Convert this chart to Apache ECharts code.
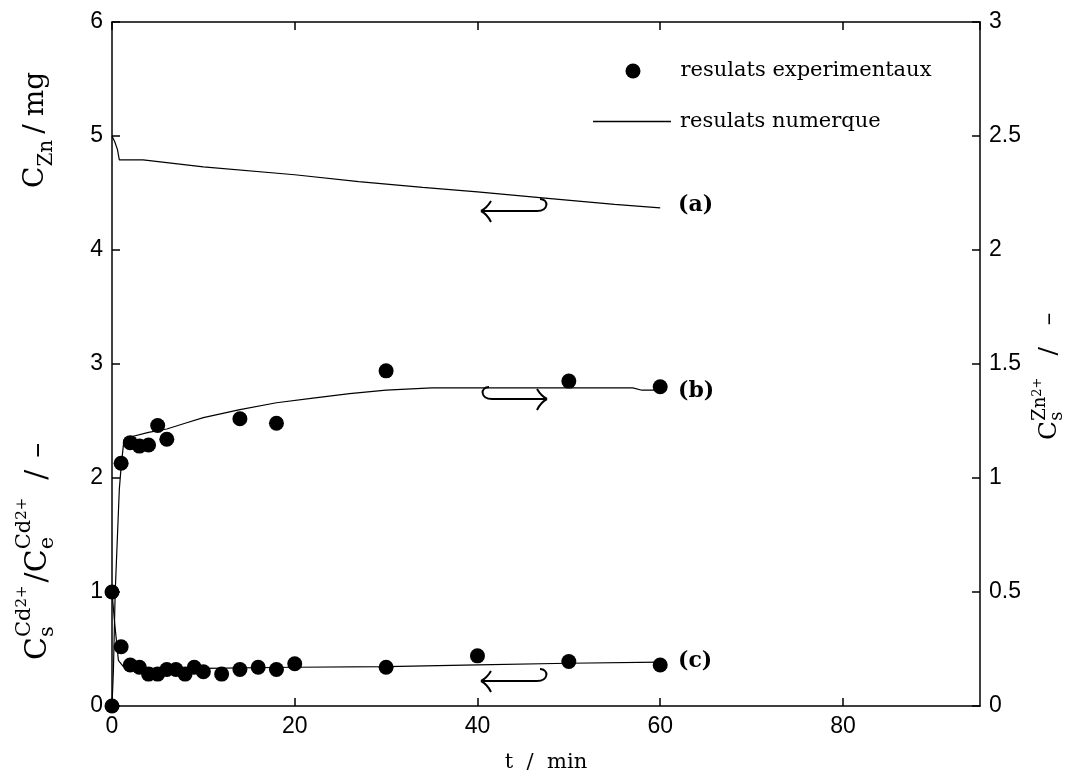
<!DOCTYPE html>
<html>
<head>
<meta charset="utf-8">
<script src="https://cdn.jsdelivr.net/npm/echarts@6/dist/echarts.min.js"></script>
<style>
  html, body { margin: 0; padding: 0; background: #fff; }
  #chart { width: 1074px; height: 778px; }
</style>
</head>
<body>
<div id="chart"></div>
<script>
// (a) numerical Zn mass, left axis (mg)
var tNumA = [0, 0.3, 0.6, 0.8, 1.5, 3.4, 10, 20, 27, 34, 40, 48, 55, 60];
var vNumA = [5.0, 4.95, 4.88, 4.79, 4.79, 4.79, 4.73, 4.66, 4.60, 4.55, 4.51, 4.45, 4.40, 4.37];

// (b) Zn surface ratio, right axis
var tNumB = [0, 0.15, 0.35, 0.6, 0.8, 1.0, 1.3, 2, 4, 6, 8, 10, 14, 18, 22, 26, 30, 35, 45, 57, 58, 60];
var vNumB = [0, 0.15, 0.5, 0.75, 0.95, 1.05, 1.165, 1.18, 1.2, 1.215, 1.24, 1.265, 1.3, 1.33, 1.35, 1.37, 1.385, 1.395, 1.395, 1.395, 1.385, 1.385];
var tExpB = [0, 1, 2, 3, 4, 5, 6, 14, 18, 30, 50, 60];
var vExpB = [0, 1.065, 1.155, 1.14, 1.145, 1.23, 1.17, 1.26, 1.24, 1.47, 1.425, 1.40];

// (c) Cd surface ratio, left axis
var tNumC = [0, 0.3, 0.7, 1.2, 3, 10, 20, 30, 40, 50, 60];
var vNumC = [1.0, 0.72, 0.40, 0.35, 0.33, 0.33, 0.34, 0.345, 0.36, 0.375, 0.385];
var tExpC = [0, 1, 2, 3, 4, 5, 6, 7, 8, 9, 10, 12, 14, 16, 18, 20, 30, 40, 50, 60];
var vExpC = [1.0, 0.52, 0.36, 0.34, 0.28, 0.28, 0.32, 0.32, 0.28, 0.34, 0.30, 0.28, 0.32, 0.34, 0.32, 0.37, 0.34, 0.44, 0.39, 0.36];

var curveLabels = ['(a)', '(b)', '(c)'];
var legendNames = ['resulats experimentaux', 'resulats numerque'];

function pairs (xs, ys) {
  return xs.map(function (x, i) { return [x, ys[i]]; });
}

var measureCtx = document.createElement('canvas').getContext('2d');
function serif (size) { return size + 'px "DejaVu Serif"'; }

// rotated axis title built from pieces (sub / superscripts)
function vertLabel (x, y, parts) {
  var pos = 0, kids = [];
  parts.forEach(function (p) {
    if (p.gap) { pos += p.gap; return; }
    measureCtx.font = serif(p.size);
    var w = measureCtx.measureText(p.text).width;
    kids.push({
      type: 'text', x: pos, y: (p.shift || 0) - 0.32 * p.size,
      style: { text: p.text, font: serif(p.size), fill: '#000', align: 'left', verticalAlign: 'middle' }
    });
    if (!p.hold) pos += w;
  });
  return { type: 'group', x: x, y: y, rotation: Math.PI / 2, children: kids, silent: true };
}

var penStyle = { stroke: '#000', lineWidth: 2, fill: null };
function seg (x1, y1, x2, y2) {
  return { type: 'line', shape: { x1: x1, y1: y1, x2: x2, y2: y2 }, style: penStyle, silent: true };
}
function curve (x1, y1, c1x, c1y, c2x, c2y, x2, y2) {
  return {
    type: 'bezierCurve', silent: true, style: penStyle,
    shape: { x1: x1, y1: y1, cpx1: c1x, cpy1: c1y, cpx2: c2x, cpy2: c2y, x2: x2, y2: y2 }
  };
}
// hook arrow pointing left (hook on the right end)
function hookLeft (x0, x1, y) {
  return [
    seg(x0, y, x1, y),
    curve(x1, y, x1 + 12, y, x1 + 12, y - 12, x1 + 3, y - 12),
    curve(x0 + 10, y - 10, x0 + 7, y - 5, x0 + 4, y - 2, x0, y),
    curve(x0, y, x0 + 4, y + 2, x0 + 7, y + 5, x0 + 10, y + 11)
  ];
}
// hook arrow pointing right (hook on the left end)
function hookRight (x0, x1, y) {
  return [
    seg(x0, y, x1, y),
    curve(x0, y, x0 - 12, y, x0 - 12, y - 12, x0 - 3, y - 12),
    curve(x1 - 10, y - 10, x1 - 7, y - 5, x1 - 4, y - 2, x1, y),
    curve(x1, y, x1 - 4, y + 2, x1 - 7, y + 5, x1 - 10, y + 11)
  ];
}

var axisStyle = { show: true, onZero: false, lineStyle: { color: '#000', width: 1.5 } };
var tickStyle = { show: true, inside: true, length: 8, lineStyle: { color: '#000', width: 1.5 } };
var numFont = { color: '#000', fontSize: 23, fontFamily: 'Liberation Sans', margin: 9 };
var labelFont = 'bold 22px "DejaVu Serif"';
var legendText = { fontFamily: 'DejaVu Serif', fontSize: 21, color: '#000' };

var chart = echarts.init(document.getElementById('chart'));
var option = {
  animation: false,
  backgroundColor: '#fff',
  grid: { left: 112, right: 94, top: 22, bottom: 72, containLabel: false },
  legend: [
    {
      data: [{ name: legendNames[0], icon: 'circle' }], left: 625.5, top: 60.5,
      itemWidth: 15, itemHeight: 15, padding: 0, selectedMode: false,
      textStyle: Object.assign({ padding: [0, 0, 0, 35] }, legendText)
    },
    {
      data: [{ name: legendNames[1], icon: 'rect' }], left: 593, top: 111,
      itemWidth: 78, itemHeight: 1.5, padding: 0, selectedMode: false,
      textStyle: Object.assign({ padding: [0, 0, 0, 4] }, legendText)
    }
  ],
  xAxis: [
    {
      type: 'value', min: 0, max: 95, interval: 20, position: 'bottom',
      axisLine: axisStyle, axisTick: tickStyle,
      axisLabel: Object.assign({ showMaxLabel: false }, numFont),
      splitLine: { show: false },
      name: 't  /  min', nameLocation: 'middle', nameGap: 46,
      nameTextStyle: { fontFamily: 'DejaVu Serif', fontSize: 21, color: '#000' }
    },
    {
      type: 'value', min: 0, max: 95, interval: 20, position: 'top',
      axisLine: axisStyle, axisTick: tickStyle, axisLabel: { show: false }, splitLine: { show: false }
    }
  ],
  yAxis: [
    {
      type: 'value', min: 0, max: 6, interval: 1, position: 'left',
      axisLine: axisStyle, axisTick: tickStyle, axisLabel: numFont, splitLine: { show: false }
    },
    {
      type: 'value', min: 0, max: 3, interval: 0.5, position: 'right',
      axisLine: axisStyle, axisTick: tickStyle, axisLabel: numFont, splitLine: { show: false }
    }
  ],
  series: [
    {
      name: legendNames[1], type: 'line', yAxisIndex: 0, data: pairs(tNumA, vNumA),
      symbol: 'none', lineStyle: { color: '#000', width: 1.2 }, itemStyle: { color: '#000' }
    },
    {
      name: legendNames[1], type: 'line', yAxisIndex: 1, data: pairs(tNumB, vNumB),
      symbol: 'none', lineStyle: { color: '#000', width: 1.2 }, itemStyle: { color: '#000' }
    },
    {
      name: legendNames[1], type: 'line', yAxisIndex: 0, data: pairs(tNumC, vNumC),
      symbol: 'none', lineStyle: { color: '#000', width: 1.2 }, itemStyle: { color: '#000' }
    },
    {
      name: legendNames[0], type: 'scatter', yAxisIndex: 1, data: pairs(tExpB, vExpB),
      symbol: 'circle', symbolSize: 15, itemStyle: { color: '#000', opacity: 1 }, z: 3
    },
    {
      name: legendNames[0], type: 'scatter', yAxisIndex: 0, data: pairs(tExpC, vExpC),
      symbol: 'circle', symbolSize: 15, itemStyle: { color: '#000', opacity: 1 }, z: 3
    }
  ],
  graphic: [].concat(
    hookLeft(481, 537, 211),
    hookRight(492, 547, 399),
    hookLeft(481, 537, 681),
    [
      { type: 'text', x: 678, y: 205, style: { text: curveLabels[0], font: labelFont, fill: '#000', verticalAlign: 'middle' } },
      { type: 'text', x: 678, y: 391, style: { text: curveLabels[1], font: labelFont, fill: '#000', verticalAlign: 'middle' } },
      { type: 'text', x: 678, y: 661, style: { text: curveLabels[2], font: labelFont, fill: '#000', verticalAlign: 'middle' } },
      vertLabel(45, 188, [
        { text: 'C', size: 28 }, { text: 'Zn', size: 20, shift: 8 }, { gap: 6 },
        { text: '/', size: 28 }, { gap: 8 }, { text: 'mg', size: 28 }
      ]),
      vertLabel(48, 660, [
        { text: 'C', size: 30 }, { text: 's', size: 21, shift: 6, hold: true },
        { text: 'Cd', size: 21, shift: -17 }, { text: '2+', size: 15, shift: -21 }, { gap: 3 },
        { text: '/', size: 30 },
        { text: 'C', size: 30 }, { text: 'e', size: 21, shift: 6, hold: true },
        { text: 'Cd', size: 21, shift: -17 }, { text: '2+', size: 15, shift: -21 }, { gap: 18 },
        { text: '/', size: 30 }, { gap: 12 }, { text: '\u2013', size: 30 }
      ]),
      vertLabel(1057, 440, [
        { text: 'C', size: 25 }, { text: 's', size: 18, shift: 6, hold: true },
        { text: 'Zn', size: 18, shift: -11 }, { text: '2+', size: 13, shift: -15 }, { gap: 22 },
        { text: '/', size: 25 }, { gap: 22 }, { text: '\u2013', size: 25 }
      ])
    ]
  )
};
chart.setOption(option);
</script>
</body>
</html>
